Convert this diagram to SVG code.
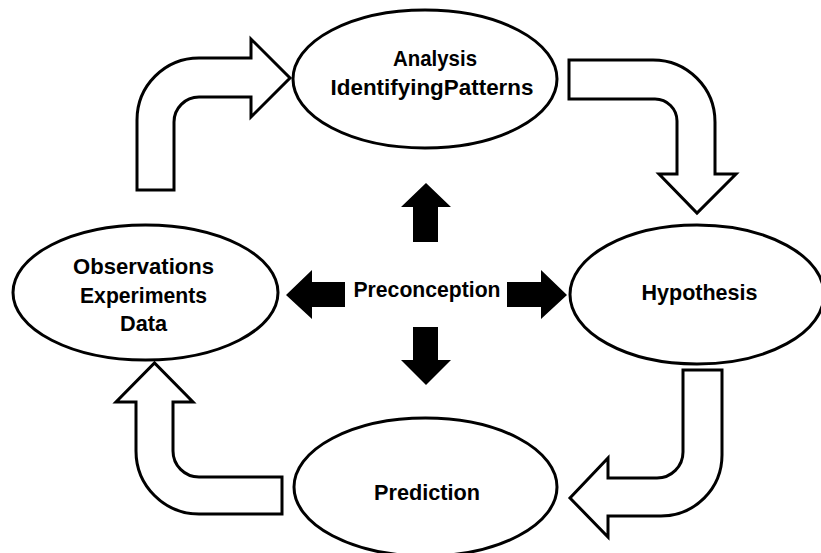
<svg xmlns="http://www.w3.org/2000/svg" width="821" height="553" viewBox="0 0 821 553">
<style>
.node{fill:#fff;stroke:#000;stroke-width:3}
.flow{fill:#fff;stroke:#000;stroke-width:3;stroke-linejoin:miter}
.solid{fill:#000;stroke:none}
text{font-family:"Liberation Sans",Arial,sans-serif;font-weight:bold;font-size:22px;fill:#000;text-anchor:middle}
</style>
<rect width="821" height="553" fill="#fff"/>
<g id="connectors">
<path class="flow" d="M137,190 L137,120 A62,62 0 0 1 199,58 L251,58 L251,39 L290,78 L251,117 L251,97 L199,97 A25,25 0 0 0 174,122 L174,190 Z"/>
<path class="flow" d="M569,60 L653,60 A62,62 0 0 1 715,122 L715,174 L736,174 L697,213 L659,174 L677,174 L677,121 A22,22 0 0 0 655,99 L569,99 Z"/>
<path class="flow" d="M683,370 L722,370 L722,455 A61,61 0 0 1 661,516 L608,516 L608,537 L570,498 L608,458 L608,478 L657,478 A26,26 0 0 0 683,452 Z"/>
<path class="flow" d="M282,477 L282,514 L199,514 A63,63 0 0 1 136,451 L136,402 L116,402 L154.5,363 L193,402 L173,402 L173,451 A26,26 0 0 0 199,477 Z"/>
<polygon class="solid" points="426,183 451,207 438,207 438,242 413,242 413,207 401,207"/>
<polygon class="solid" points="286,295 312,270 312,282 345,282 345,307 312,307 312,319"/>
<polygon class="solid" points="567,295 541,270 541,282 507,282 507,307 541,307 541,319"/>
<polygon class="solid" points="426,385 451,360 438,360 438,327 413,327 413,360 401,360"/>
</g>
<g id="analysis">
<ellipse class="node" cx="425" cy="79" rx="132" ry="69"/>
<text x="435" y="66" textLength="84" lengthAdjust="spacingAndGlyphs">Analysis</text>
<text x="432" y="95" textLength="203" lengthAdjust="spacingAndGlyphs">IdentifyingPatterns</text>
</g>
<g id="hypothesis">
<ellipse class="node" cx="697" cy="294.5" rx="127" ry="69.5"/>
<text x="699.5" y="300" textLength="116" lengthAdjust="spacingAndGlyphs">Hypothesis</text>
</g>
<g id="prediction">
<ellipse class="node" cx="425.5" cy="487" rx="131.5" ry="69"/>
<text x="427" y="500" textLength="106" lengthAdjust="spacingAndGlyphs">Prediction</text>
</g>
<g id="observations">
<ellipse class="node" cx="145.5" cy="292.5" rx="132.5" ry="67.5"/>
<text x="143.5" y="274" textLength="141" lengthAdjust="spacingAndGlyphs">Observations</text>
<text x="143.5" y="303" textLength="127" lengthAdjust="spacingAndGlyphs">Experiments</text>
<text x="143.5" y="331" textLength="47" lengthAdjust="spacingAndGlyphs">Data</text>
</g>
<g id="preconception">
<text x="427" y="297" textLength="147" lengthAdjust="spacingAndGlyphs">Preconception</text>
</g>
</svg>
